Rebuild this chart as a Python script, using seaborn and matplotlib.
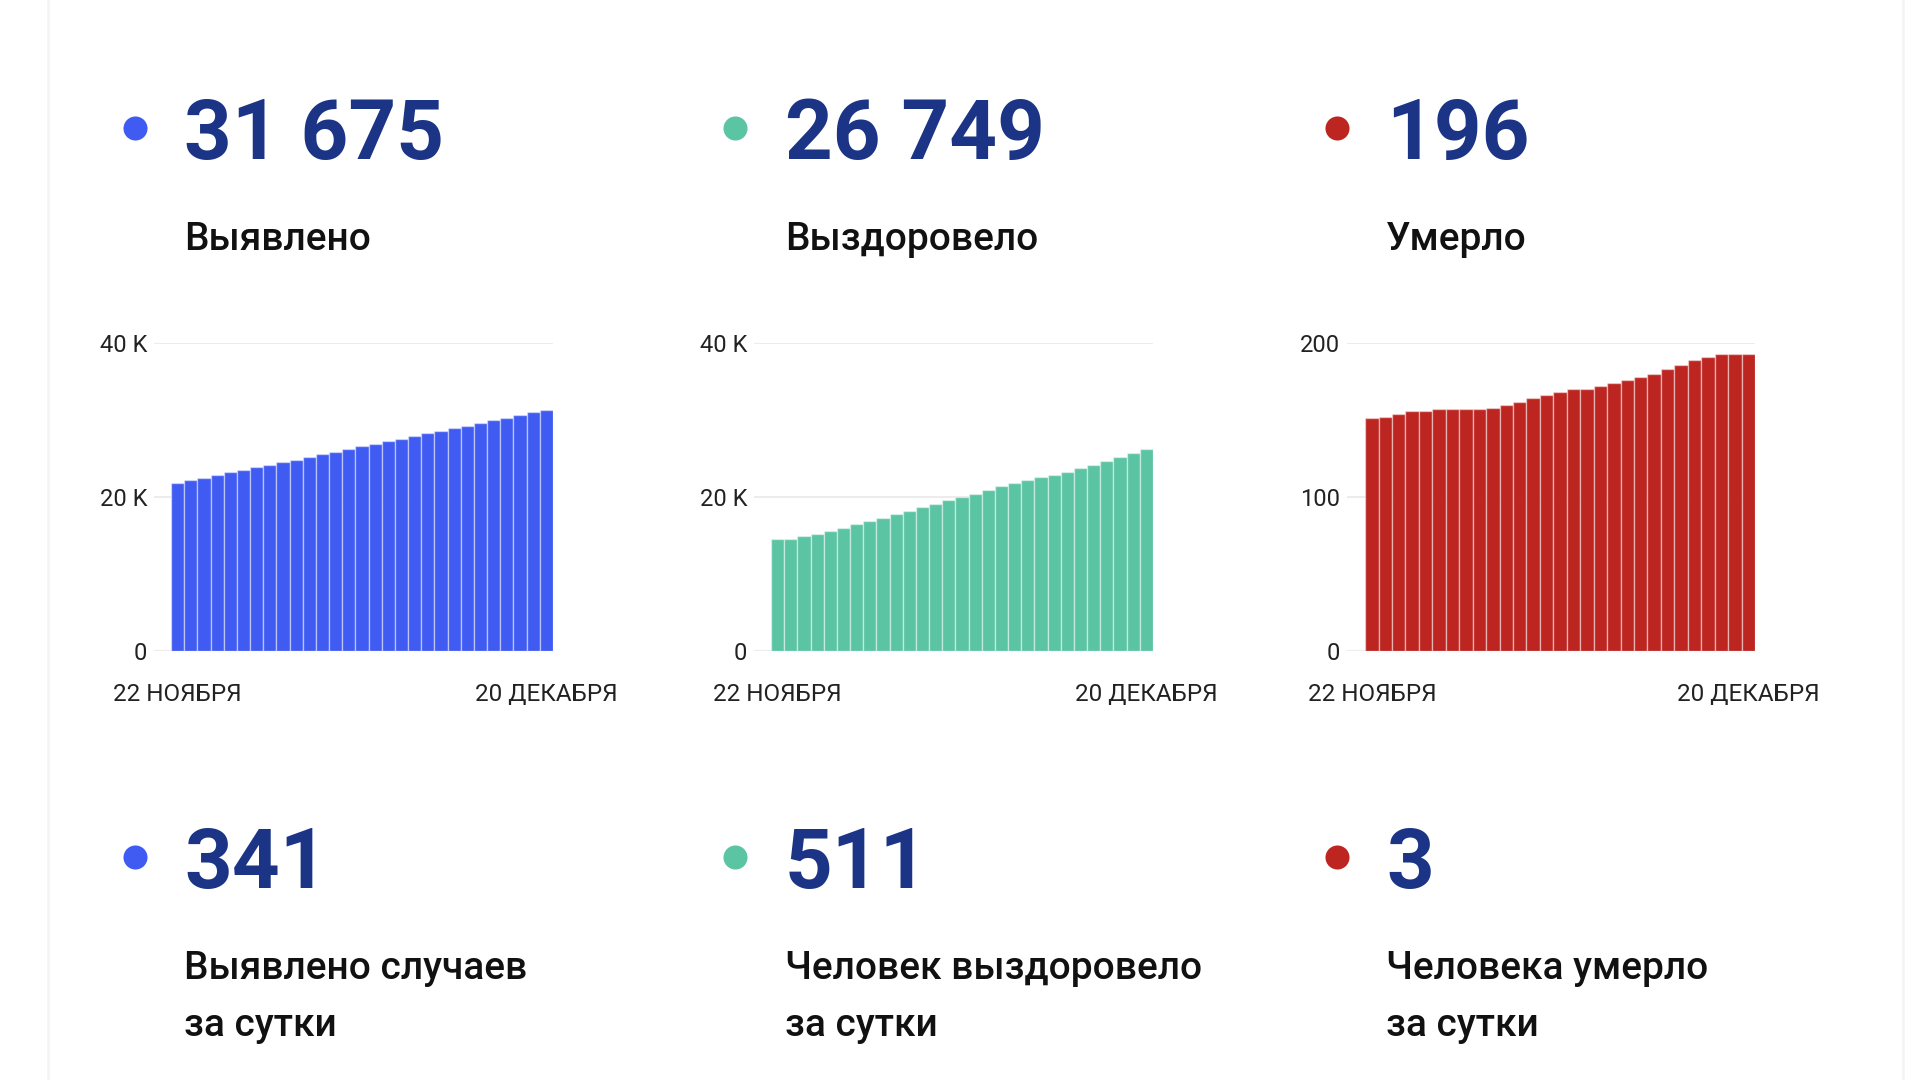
import numpy as np
import pandas as pd
import seaborn as sns
import matplotlib.pyplot as plt

# cumulative values, 22 Nov .. 20 Dec (29 days)
days = list(range(29))
cases = [21880, 22220, 22520, 22870, 23210, 23560, 23900, 24210, 24550, 24850,
         25200, 25540, 25890, 26240, 26580, 26880, 27230, 27570, 27920, 28260,
         28610, 28950, 29260, 29600, 29950, 30290, 30640, 30980, 31330]
recovered = [14540, 14590, 14930, 15190, 15530, 16010, 16440, 16830, 17260, 17740,
             18170, 18640, 19120, 19590, 19940, 20410, 20890, 21400, 21880, 22220,
             22650, 22870, 23260, 23730, 24160, 24680, 25200, 25680, 26200]
deaths = [151, 152, 154, 156, 156, 157, 157, 157, 157, 158,
          160, 162, 164, 166, 168, 170, 170, 172, 174, 176,
          178, 180, 183, 186, 189, 191, 193, 193, 193]

totals = ["31 675", "26 749", "196"]
titles = ["Выявлено", "Выздоровело", "Умерло"]
daily = ["341", "511", "3"]
daily_titles = [["Выявлено случаев", "за сутки"],
                ["Человек выздоровело", "за сутки"],
                ["Человека умерло", "за сутки"]]
date_labels = ["22 НОЯБРЯ", "20 ДЕКАБРЯ"]

colors = ["#3f5bf2", "#5bc4a2", "#bd2521"]
navy = "#1b3486"

sns.set_theme(style="white")
plt.rcParams["font.family"] = ["Roboto", "DejaVu Sans"]

W, H = 1920, 1080
fig = plt.figure(figsize=(19.2, 10.8), dpi=100)
fig.patch.set_facecolor("white")

def frac(x0, x1, ytop, ybot):
    return [x0 / W, 1 - ybot / H, (x1 - x0) / W, (ybot - ytop) / H]

# charts
chart_boxes = [(154, 553, -1.8), (754, 1153, -1.8), (1347, 1755, -1.85)]
series = [cases, recovered, deaths]
ymax = [40000, 40000, 200]
yticks = [[0, 20000, 40000], [0, 20000, 40000], [0, 100, 200]]
ylabels = [["0", "20 K", "40 K"], ["0", "20 K", "40 K"], ["0", "100", "200"]]

for i in range(3):
    x0, x1, xl = chart_boxes[i]
    ax = fig.add_axes(frac(x0, x1, 343, 651))
    df = pd.DataFrame({"day": days, "value": series[i]})
    sns.barplot(data=df, x="day", y="value", color=colors[i], width=1.0,
                saturation=1, edgecolor=(1, 1, 1, 0.45), linewidth=1.0, ax=ax)
    ax.set_xlim(xl, 28.5)
    ax.set_ylim(0, ymax[i])
    ax.set_yticks(yticks[i])
    ax.set_yticklabels(ylabels[i])
    ax.set_xticks([0, 28])
    ax.set_xticklabels(date_labels)
    ax.set_xlabel("")
    ax.set_ylabel("")
    for y in yticks[i]:
        ax.axhline(y, color="#ececec", lw=1.5, zorder=0)
    sns.despine(ax=ax, left=True, bottom=True)
    ax.tick_params(axis="y", length=0, pad=5, labelsize=17, labelcolor="#222222")
    ax.tick_params(axis="x", length=0, pad=23, labelsize=17.5, labelcolor="#222222")
    ax.set_facecolor("none")

# overlay for texts and dots
ov = fig.add_axes([0, 0, 1, 1])
ov.set_xlim(0, W)
ov.set_ylim(H, 0)
ov.axis("off")
ov.patch.set_alpha(0)

dot_x = [135, 735, 1337]
num_x = [184, 785, 1386]
for i in range(3):
    ov.scatter([dot_x[i], dot_x[i]], [128, 857], s=300, color=colors[i], linewidths=0)
    ov.text(num_x[i], 159, totals[i], fontsize=60, fontweight="bold", color=navy,
            ha="left", va="baseline")
    ov.text(num_x[i], 250, titles[i], fontsize=28, fontweight="medium", color="#111111",
            ha="left", va="baseline")
    ov.text(num_x[i], 888, daily[i], fontsize=60, fontweight="bold", color=navy,
            ha="left", va="baseline")
    ov.text(num_x[i], 979, daily_titles[i][0], fontsize=28, fontweight="medium",
            color="#111111", ha="left", va="baseline")
    ov.text(num_x[i], 1036, daily_titles[i][1], fontsize=28, fontweight="medium",
            color="#111111", ha="left", va="baseline")

# faint page borders
ov.plot([48, 48], [0, H], color="#f4f4f4", lw=2)
ov.plot([1903, 1903], [0, H], color="#f4f4f4", lw=2)

fig.savefig("out.png", dpi=100, facecolor="white")
